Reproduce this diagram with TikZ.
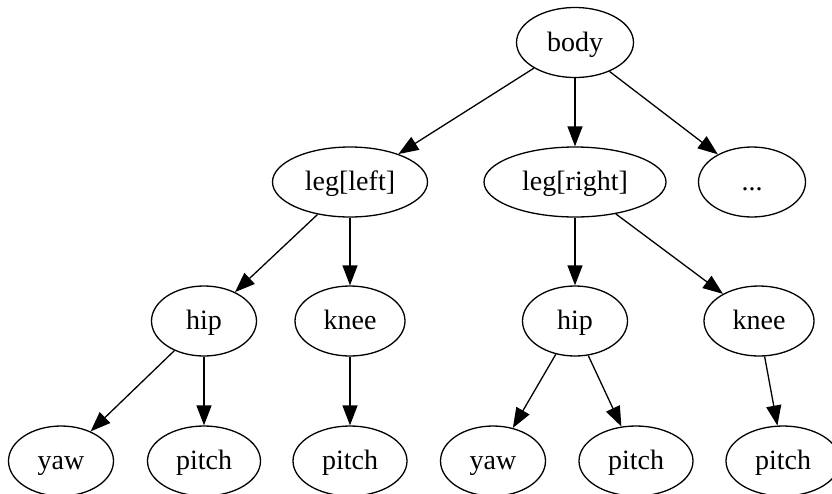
\documentclass[tikz,border=0pt]{standalone}
\usepackage{fontspec}
\setmainfont{Liberation Serif}
\usetikzlibrary{shapes.geometric,arrows.meta}
\begin{document}
\begin{tikzpicture}[x=1pt,y=-1pt,
  nd/.style={ellipse,draw,line width=1.3pt,inner sep=0pt,minimum height=70pt,
    text height=20pt,text depth=3pt,
    font=\fontsize{28}{33}\selectfont},
  edge/.style={line width=1.3pt,-{Triangle[length=20pt,width=15pt]}}]
\useasboundingbox (0,0) rectangle (832,493);
\node[nd,minimum width=117pt] (body) at (575,42.5) {body};
\node[nd,minimum width=155pt] (legl) at (350,182) {leg[left]};
\node[nd,minimum width=182pt] (legr) at (575,182) {leg[right]};
\node[nd,minimum width=107pt] (dots) at (752,182) {...};
\node[nd,minimum width=105pt] (hipl) at (204,321) {hip};
\node[nd,minimum width=110pt] (kneel) at (350,321) {knee};
\node[nd,minimum width=105pt] (hipr) at (575,321) {hip};
\node[nd,minimum width=110pt] (kneer) at (759,321) {knee};
\node[nd,minimum width=105pt] (yawl) at (61,461) {yaw};
\node[nd,minimum width=113pt] (pitchl) at (204,461) {pitch};
\node[nd,minimum width=114pt] (pitchk) at (350,461) {pitch};
\node[nd,minimum width=105pt] (yawr) at (493,461) {yaw};
\node[nd,minimum width=114pt] (pitchr) at (636,461) {pitch};
\node[nd,minimum width=114pt] (pitchkr) at (783,461) {pitch};
\draw[edge] (body.212) -- (legl.30.8);
\draw[edge] (body.270) -- (legr.90);
\draw[edge] (body.320.8) -- (dots.141.5);
\draw[edge] (legl.225) -- (hipl.43);
\draw[edge] (legl.270) -- (kneel.90);
\draw[edge] (legr.270) -- (hipr.90);
\draw[edge] (legr.322.7) -- (kneer.143.1);
\draw[edge] (hipl.225) -- (yawl.45);
\draw[edge] (hipl.270) -- (pitchl.90);
\draw[edge] (kneel.270) -- (pitchk.90);
\draw[edge] (hipr.240.3) -- (yawr.59.5);
\draw[edge] (hipr.291.8) -- (pitchr.113.8);
\draw[edge] (kneer.279.5) -- (pitchkr.99.7);
\end{tikzpicture}
\end{document}
